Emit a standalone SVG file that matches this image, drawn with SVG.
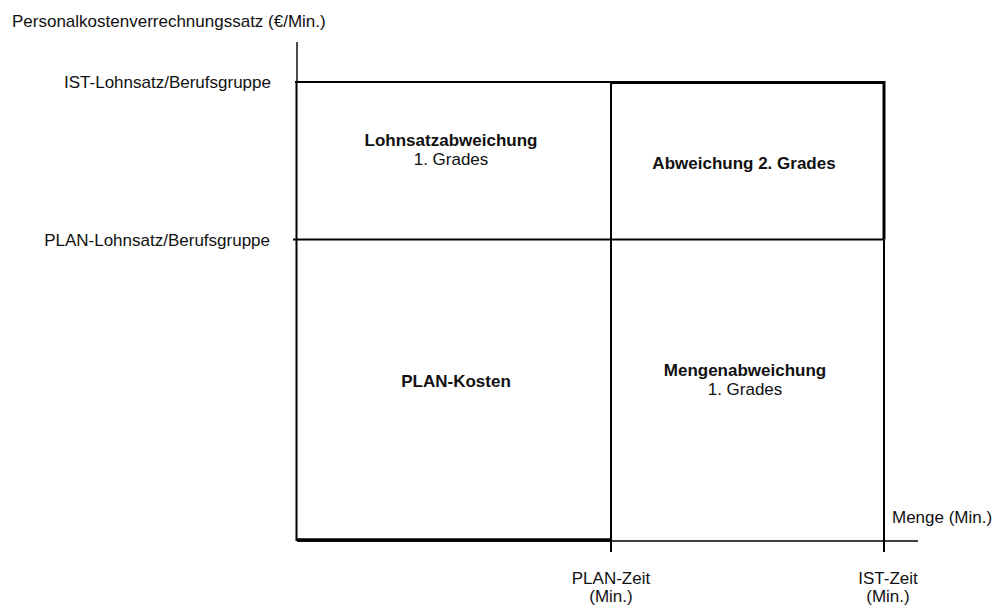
<svg xmlns="http://www.w3.org/2000/svg" width="996" height="606" viewBox="0 0 996 606">
  <style>
    text { font-family: "Liberation Sans", Arial, sans-serif; font-size: 17px; fill: #111; }
    .b { font-weight: bold; }
    .c { text-anchor: middle; }
    .r { text-anchor: end; }
    .thin { stroke: #000; stroke-width: 1.4; fill: none; }
    .mid { stroke: #000; stroke-width: 2; fill: none; }
    .thick { stroke: #000; stroke-width: 3; fill: none; }
  </style>
  <rect width="996" height="606" fill="#fff"/>

  <!-- axes and grid lines -->
  <g id="connectors">
    <line class="thin" x1="297" y1="42" x2="297" y2="82"/>
    <line class="thin" x1="297" y1="541" x2="918" y2="541"/>
    <line class="mid" x1="296.5" y1="82" x2="296.5" y2="541"/>
    <line class="mid" x1="295" y1="82" x2="611" y2="82"/>
    <line class="thick" x1="611" y1="82.5" x2="884" y2="82.5"/>
    <line class="mid" x1="293" y1="239.5" x2="884" y2="239.5"/>
    <line class="mid" x1="611" y1="82" x2="611" y2="552"/>
    <line class="thick" x1="884" y1="81" x2="884" y2="239.5"/>
    <line class="mid" x1="884" y1="239.5" x2="884" y2="552"/>
    <line class="thick" x1="297" y1="540" x2="611" y2="540" style="stroke-width:3.5"/>
  </g>

  <!-- axis labels -->
  <g id="y-axis-label"><text x="12" y="27">Personalkostenverrechnungssatz (€/Min.)</text></g>
  <g id="ist-lohnsatz"><text class="r" x="271" y="88">IST-Lohnsatz/Berufsgruppe</text></g>
  <g id="plan-lohnsatz"><text class="r" x="270" y="246">PLAN-Lohnsatz/Berufsgruppe</text></g>
  <g id="x-axis-label"><text x="892" y="523">Menge (Min.)</text></g>
  <g id="plan-zeit">
    <text class="c" x="611" y="584">PLAN-Zeit</text>
    <text class="c" x="611" y="602">(Min.)</text>
  </g>
  <g id="ist-zeit">
    <text class="c" x="888" y="584">IST-Zeit</text>
    <text class="c" x="888" y="602">(Min.)</text>
  </g>

  <!-- areas -->
  <g id="lohnsatzabweichung">
    <text class="c b" x="451" y="146">Lohnsatzabweichung</text>
    <text class="c" x="451" y="165">1. Grades</text>
  </g>
  <g id="abweichung-2-grades">
    <text class="c b" x="744" y="169">Abweichung 2. Grades</text>
  </g>
  <g id="plan-kosten">
    <text class="c b" x="456" y="387">PLAN-Kosten</text>
  </g>
  <g id="mengenabweichung">
    <text class="c b" x="745" y="376">Mengenabweichung</text>
    <text class="c" x="745" y="395">1. Grades</text>
  </g>
</svg>
